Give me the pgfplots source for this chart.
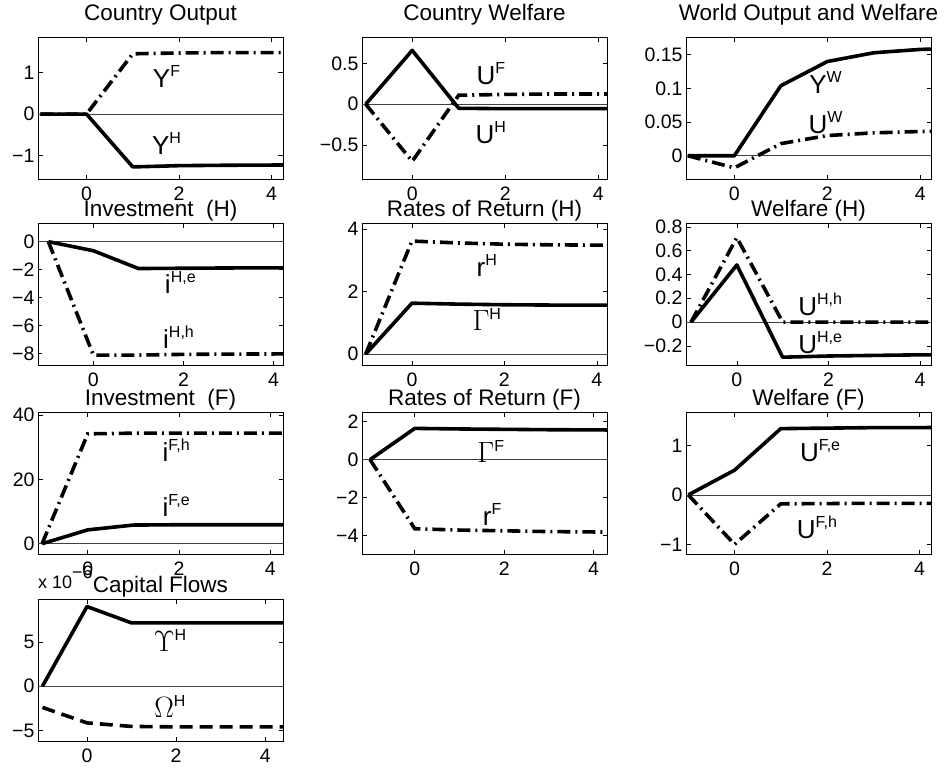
\documentclass[border=0pt]{standalone}
\usepackage{pgfplots}
\pgfplotsset{compat=1.18}
\usepackage{fontspec}
\setmainfont{Liberation Sans}
\newcommand\lab[2]{#1\raisebox{11pt}{\fontsize{16}{16}\selectfont #2}}
\newcommand\gk[1]{\scalebox{1.18}{$#1$}}
\pgfplotsset{
  every axis title/.style={at={(0.5,1)}, anchor=base, yshift=6.8pt},
  panel/.style={scale only axis, width=245pt, height=142pt, anchor=north west,
    tick align=inside, xtick={0,2,4}, xticklabels={0,2,4},
    axis line style={line width=0.7pt}, major tick length=4.5pt,
    tick style={line width=0.6pt, black},
    ticklabel style={font=\fontsize{19.5}{20}\selectfont},
    xticklabel style={yshift=-4pt},
    title style={font=\fontsize{22.5}{24}\selectfont},
    clip=true},
  zl/.style={black!75, line width=0.7pt, forget plot},
  sl/.style={black, line width=3.6pt, line join=round},
  dl/.style={black, line width=3.6pt, dash pattern=on 13pt off 5pt on 2pt off 5pt},
  dd/.style={black, line width=3.6pt, dash pattern=on 13pt off 7pt},
}
\tikzset{lbl/.style={font=\fontsize{26}{28}\selectfont, inner sep=0pt}}
\begin{document}
\begin{tikzpicture}
\path[use as bounding box] (0,0) rectangle (950pt,773pt);
% Row 1
\begin{axis}[panel, at={(38pt,735.7pt)}, xmin=-1.05, xmax=4.25, ymin=-1.58, ymax=1.86,
  ytick={-1,0,1}, yticklabels={−1,0,1}, title={Country Output}, title style={yshift=9.8pt}]
\addplot[zl] coordinates {(-2,0) (6,0)};
\addplot[sl] coordinates {(-1,0) (0,0) (1,-1.28) (2,-1.25) (3,-1.24) (4,-1.235) (5,-1.23)};
\addplot[dl] coordinates {(-1,0) (0,0) (1,1.46) (2,1.48) (3,1.49) (4,1.49) (5,1.49)};
\node[lbl] at (axis cs:1.73,0.9) {\lab{Y}{F}};
\node[lbl] at (axis cs:1.73,-0.72) {\lab{Y}{H}};
\end{axis}
\begin{axis}[panel, at={(362pt,735.7pt)}, xmin=-1.08, xmax=4.19, ymin=-0.92, ymax=0.82,
  ytick={-0.5,0,0.5}, yticklabels={−0.5,0,0.5}, title={Country Welfare}, title style={yshift=9.8pt}]
\addplot[zl] coordinates {(-2,0) (6,0)};
\addplot[sl] coordinates {(-1,0) (0,0.66) (1,-0.05) (2,-0.055) (3,-0.055) (4,-0.055) (5,-0.055)};
\addplot[dl] coordinates {(-1,0) (0,-0.7) (1,0.11) (2,0.12) (3,0.125) (4,0.125) (5,0.125)};
\node[lbl] at (axis cs:1.69,0.37) {\lab{U}{F}};
\node[lbl] at (axis cs:1.69,-0.35) {\lab{U}{H}};
\end{axis}
\begin{axis}[panel, at={(686pt,735.7pt)}, xmin=-1.04, xmax=4.23, ymin=-0.035, ymax=0.176,
  ytick={0,0.05,0.1,0.15}, yticklabels={0,0.05,0.1,0.15}, title={World Output and Welfare}, title style={yshift=9.8pt}]
\addplot[zl] coordinates {(-2,0) (6,0)};
\addplot[sl] coordinates {(-1,0) (0,0) (1,0.104) (2,0.14) (3,0.153) (4,0.158) (5,0.16)};
\addplot[dl] coordinates {(-1,0) (0,-0.018) (1,0.018) (2,0.03) (3,0.034) (4,0.036) (5,0.037)};
\node[lbl] at (axis cs:1.96,0.109) {\lab{Y}{W}};
\node[lbl] at (axis cs:1.96,0.049) {\lab{U}{W}};
\end{axis}
% Row 2
\begin{axis}[panel, at={(38pt,549.7pt)}, xmin=-1.23, xmax=4.21, ymin=-8.83, ymax=1.31,
  ytick={-8,-6,-4,-2,0}, yticklabels={−8,−6,−4,−2,0}, title={Investment\ \ (H)}]
\addplot[zl] coordinates {(-2,0) (6,0)};
\addplot[sl] coordinates {(-1,0) (0,-0.65) (1,-1.92) (2,-1.9) (3,-1.88) (4,-1.87) (5,-1.86)};
\addplot[dl] coordinates {(-1,0) (0,-8.1) (1,-8.1) (2,-8.05) (3,-8.03) (4,-8.02) (5,-8.0)};
\node[lbl] at (axis cs:1.93,-2.9) {\lab{i}{H,e}};
\node[lbl] at (axis cs:1.89,-6.8) {\lab{i}{H,h}};
\end{axis}
\begin{axis}[panel, at={(362pt,549.7pt)}, xmin=-1.08, xmax=4.22, ymin=-0.36, ymax=4.19,
  ytick={0,2,4}, yticklabels={0,2,4}, title={Rates of Return (H)}]
\addplot[zl] coordinates {(-2,0) (6,0)};
\addplot[sl] coordinates {(-1,0) (0,1.63) (1,1.6) (2,1.58) (3,1.57) (4,1.57) (5,1.56)};
\addplot[dl] coordinates {(-1,0) (0,3.62) (1,3.56) (2,3.52) (3,3.5) (4,3.49) (5,3.48)};
\node[lbl] at (axis cs:1.62,2.85) {\lab{r}{H}};
\node[lbl] at (axis cs:1.62,1.1) {\lab{\gk{\Gamma}}{H}};
\end{axis}
\begin{axis}[panel, at={(686pt,549.7pt)}, xmin=-1.11, xmax=4.24, ymin=-0.363, ymax=0.83,
  ytick={-0.2,0,0.2,0.4,0.6,0.8}, yticklabels={−0.2,0,0.2,0.4,0.6,0.8}, title={Welfare (H)}]
\addplot[zl] coordinates {(-2,0) (6,0)};
\addplot[sl] coordinates {(-1,0) (0,0.48) (1,-0.295) (2,-0.285) (3,-0.28) (4,-0.275) (5,-0.275)};
\addplot[dl] coordinates {(-1,0) (0,0.71) (1,0) (2,0) (3,0) (4,0) (5,0)};
\node[lbl] at (axis cs:1.82,0.15) {\lab{U}{H,h}};
\node[lbl] at (axis cs:1.82,-0.17) {\lab{U}{H,e}};
\end{axis}
% Row 3
\begin{axis}[panel, at={(38pt,360.7pt)}, xmin=-1.09, xmax=4.28, ymin=-3.3, ymax=40.9,
  ytick={0,20,40}, yticklabels={0,20,40}, title={Investment\ \ (F)}]
\addplot[zl] coordinates {(-2,0) (6,0)};
\addplot[sl] coordinates {(-1,0) (0,4.3) (1,5.8) (2,5.9) (3,5.9) (4,5.9) (5,5.9)};
\addplot[dl] coordinates {(-1,0) (0,34.2) (1,34.4) (2,34.4) (3,34.4) (4,34.4) (5,34.4)};
\node[lbl] at (axis cs:1.94,29) {\lab{i}{F,h}};
\node[lbl] at (axis cs:1.94,11.8) {\lab{i}{F,e}};
\end{axis}
\begin{axis}[panel, at={(362pt,360.7pt)}, xmin=-1.18, xmax=4.3, ymin=-5.0, ymax=2.5,
  ytick={-4,-2,0,2}, yticklabels={−4,−2,0,2}, title={Rates of Return (F)}]
\addplot[zl] coordinates {(-2,0) (6,0)};
\addplot[sl] coordinates {(-1,0) (0,1.65) (1,1.62) (2,1.6) (3,1.58) (4,1.57) (5,1.56)};
\addplot[dl] coordinates {(-1,0) (0,-3.65) (1,-3.72) (2,-3.76) (3,-3.8) (4,-3.82) (5,-3.83)};
\node[lbl] at (axis cs:1.7,0.45) {\lab{\gk{\Gamma}}{F}};
\node[lbl] at (axis cs:1.73,-2.9) {\lab{r}{F}};
\end{axis}
\begin{axis}[panel, at={(686pt,360.7pt)}, xmin=-1.05, xmax=4.25, ymin=-1.2, ymax=1.67,
  ytick={-1,0,1}, yticklabels={−1,0,1}, title={Welfare (F)}]
\addplot[zl] coordinates {(-2,0) (6,0)};
\addplot[sl] coordinates {(-1,0) (0,0.5) (1,1.34) (2,1.35) (3,1.36) (4,1.36) (5,1.37)};
\addplot[dl] coordinates {(-1,0) (0,-1.0) (1,-0.18) (2,-0.175) (3,-0.17) (4,-0.17) (5,-0.17)};
\node[lbl] at (axis cs:1.85,0.9) {\lab{U}{F,e}};
\node[lbl] at (axis cs:1.78,-0.66) {\lab{U}{F,h}};
\end{axis}
% Row 4
\begin{axis}[panel, at={(38pt,173.7pt)}, xmin=-1.1, xmax=4.4, ymin=-6.23, ymax=9.82,
  ytick={-5,0,5}, yticklabels={−5,0,5}, title={Capital Flows}]
\addplot[zl] coordinates {(-2,0) (6,0)};
\addplot[sl] coordinates {(-1,0) (0,9.0) (1,7.15) (2,7.15) (3,7.15) (4,7.15) (5,7.15)};
\addplot[dd] coordinates {(-1,-2.4) (0,-4.15) (1,-4.55) (2,-4.6) (3,-4.6) (4,-4.6) (5,-4.6)};
\node[lbl] at (axis cs:1.86,5.2) {\lab{\gk{\Upsilon}}{H}};
\node[lbl] at (axis cs:1.86,-2.3) {\lab{\gk{\Omega}}{H}};
\end{axis}
\node[anchor=base west, inner sep=0pt, font=\fontsize{18}{20}\selectfont] at (38pt,184.7pt)
  {x 10\raisebox{10pt}{\fontsize{18}{20}\selectfont −6}};
\end{tikzpicture}
\end{document}
